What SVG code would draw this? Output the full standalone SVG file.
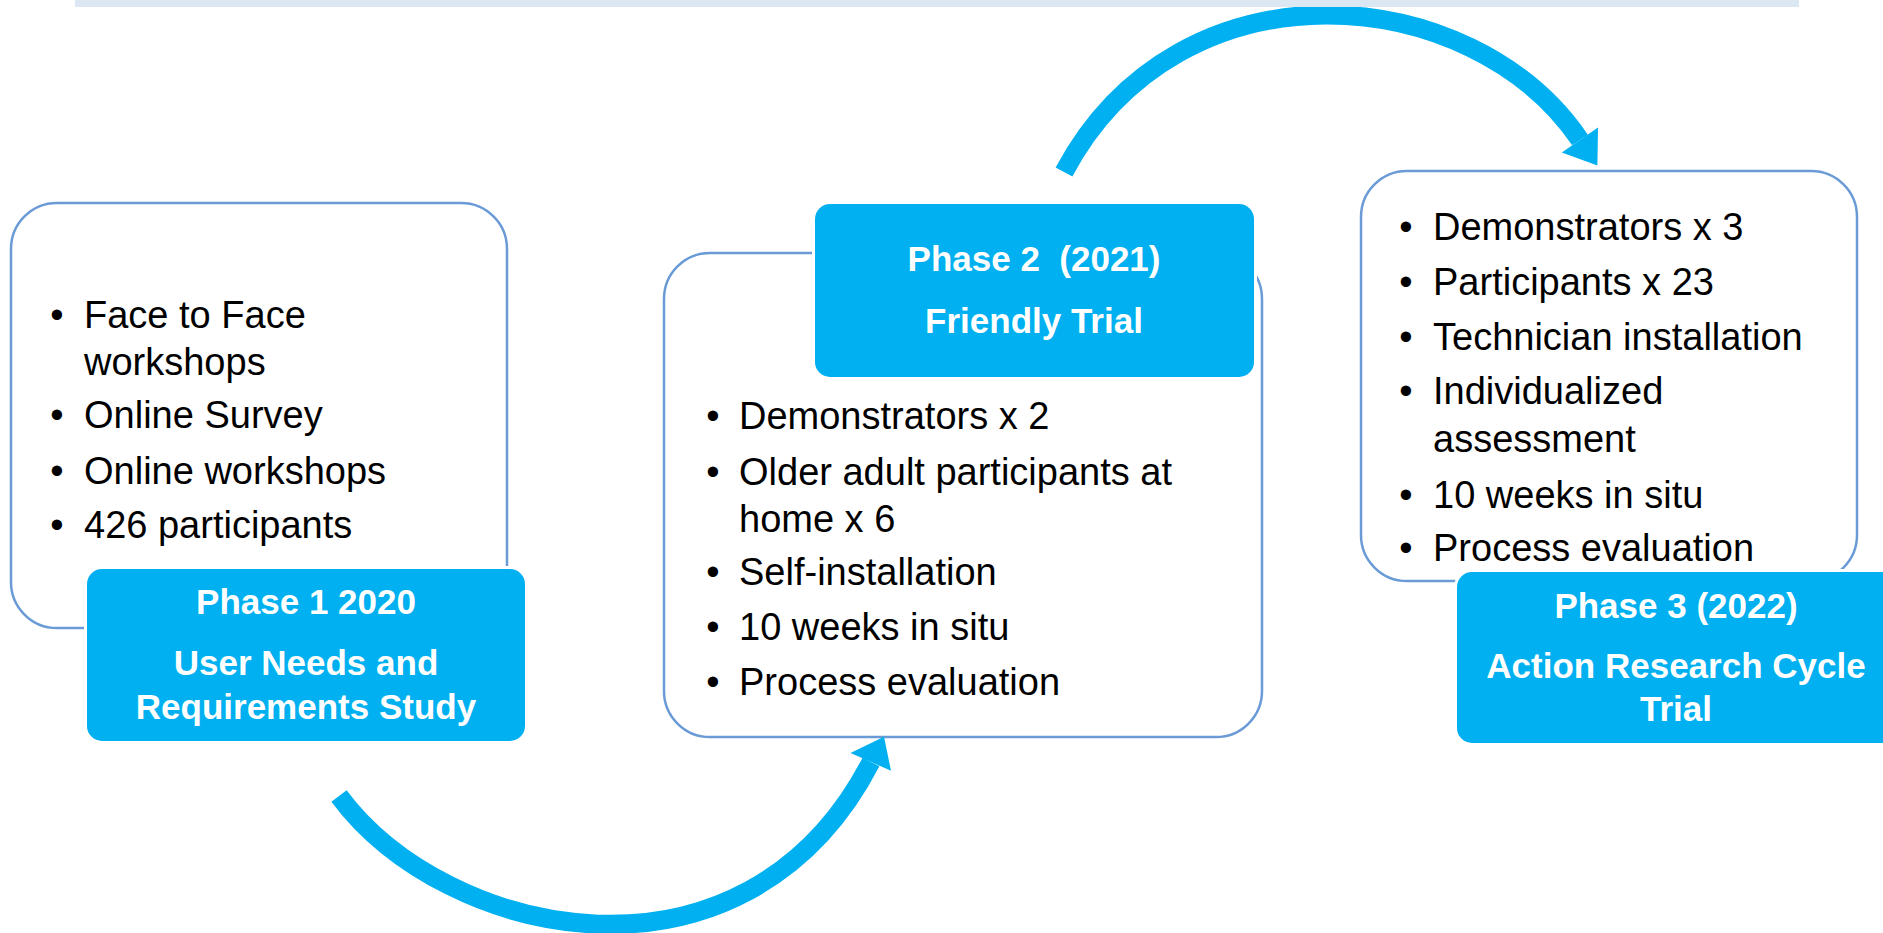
<svg xmlns="http://www.w3.org/2000/svg" width="1883" height="933" viewBox="0 0 1883 933">
<style>
.box{fill:#ffffff;stroke:#6A9BD6;stroke-width:2.5}
.lbl{fill:#00B0F0;stroke:#ffffff;stroke-width:6;paint-order:stroke}
.t{font-family:"Liberation Sans",Arial,sans-serif;font-size:38px;fill:#000000}
.b{font-family:"Liberation Sans",Arial,sans-serif;font-size:38px;fill:#000000;text-anchor:middle}
.h{font-family:"Liberation Sans",Arial,sans-serif;font-size:35px;font-weight:bold;fill:#ffffff;text-anchor:middle}
.arc{fill:none;stroke:#00B0F0;stroke-width:19;stroke-linecap:butt}
.head{fill:#00B0F0}
</style>
<rect x="0" y="0" width="1883" height="933" fill="#ffffff"/>

<g id="phase1">
<rect class="box" x="11" y="203" width="496" height="425" rx="46" ry="46"/>
<text class="b" x="57" y="328">•</text><text class="t" x="84" y="328">Face to Face</text>
<text class="t" x="84" y="375">workshops</text>
<text class="b" x="57" y="428">•</text><text class="t" x="84" y="428">Online Survey</text>
<text class="b" x="57" y="484">•</text><text class="t" x="84" y="484">Online workshops</text>
<text class="b" x="57" y="538">•</text><text class="t" x="84" y="538">426 participants</text>
<rect class="lbl" x="87" y="569" width="438" height="172" rx="15" ry="15"/>
<text class="h" x="306" y="614">Phase 1 2020</text>
<text class="h" x="306" y="675">User Needs and</text>
<text class="h" x="306" y="719">Requirements Study</text>
</g>

<g id="phase2">
<rect class="box" x="664" y="253" width="598" height="484" rx="46" ry="46"/>
<rect class="lbl" x="815" y="204" width="439" height="173" rx="15" ry="15"/>
<text class="h" x="1034" y="271">Phase 2&#160; (2021)</text>
<text class="h" x="1034" y="333">Friendly Trial</text>
<text class="b" x="713" y="429">•</text><text class="t" x="739" y="429">Demonstrators x 2</text>
<text class="b" x="713" y="485">•</text><text class="t" x="739" y="485">Older adult participants at</text>
<text class="t" x="739" y="532">home x 6</text>
<text class="b" x="713" y="585">•</text><text class="t" x="739" y="585">Self-installation</text>
<text class="b" x="713" y="640">•</text><text class="t" x="739" y="640">10 weeks in situ</text>
<text class="b" x="713" y="695">•</text><text class="t" x="739" y="695">Process evaluation</text>
</g>

<g id="phase3">
<rect class="box" x="1361" y="171" width="496" height="410" rx="46" ry="46"/>
<text class="b" x="1406" y="240">•</text><text class="t" x="1433" y="240">Demonstrators x 3</text>
<text class="b" x="1406" y="295">•</text><text class="t" x="1433" y="295">Participants x 23</text>
<text class="b" x="1406" y="350">•</text><text class="t" x="1433" y="350">Technician installation</text>
<text class="b" x="1406" y="404">•</text><text class="t" x="1433" y="404">Individualized</text>
<text class="t" x="1433" y="452">assessment</text>
<text class="b" x="1406" y="508">•</text><text class="t" x="1433" y="508">10 weeks in situ</text>
<text class="b" x="1406" y="561">•</text><text class="t" x="1433" y="561">Process evaluation</text>
<rect class="lbl" x="1457" y="572" width="440" height="171" rx="15" ry="15"/>
<text class="h" x="1676" y="618">Phase 3 (2022)</text>
<text class="h" x="1676" y="678">Action Research Cycle</text>
<text class="h" x="1676" y="721">Trial</text>
</g>

<g id="connectors">
<path class="arc" d="M339,796 C446,940 745,1005 871,762"/>
<polygon class="head" points="850.5,753 891,770.7 884,736.7"/>
<path class="arc" d="M1064,172 C1180,-45 1472,-19 1580,140"/>
<polygon class="head" points="1561.8,152.4 1598,127.6 1597.4,165.6"/>
</g>

<rect id="topband" x="75" y="0" width="1724" height="7" fill="#DCE7F4"/>
</svg>
